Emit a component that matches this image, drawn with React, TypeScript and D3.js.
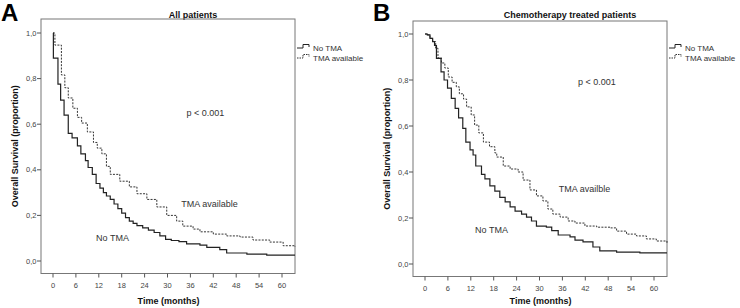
import React from "react";
import * as d3 from "d3";

// ---- Data ----
const xTicks = [0, 6, 12, 18, 24, 30, 36, 42, 48, 54, 60];
const yTicks = [0, 0.2, 0.4, 0.6, 0.8, 1.0];
const yTickLabels = ["0,0", "0,2", "0,4", "0,6", "0,8", "1,0"];

const aNoTmaTime = [0, 0.1, 1.3, 2.0, 2.9, 4.0, 5.0, 6.4, 7.3, 8.5, 9.2, 10.3, 11.3, 12.3, 13.2, 14, 15, 16, 17, 18, 19, 20, 21, 22, 23.5, 25, 26.5, 28, 29.5, 31, 33, 35, 38.5, 40.3, 43.7, 45.5, 50.8, 56, 63.4];
const aNoTmaSurv = [1, 0.89, 0.776, 0.706, 0.64, 0.56, 0.54, 0.505, 0.47, 0.44, 0.41, 0.38, 0.34, 0.32, 0.3, 0.285, 0.27, 0.25, 0.23, 0.21, 0.19, 0.175, 0.165, 0.155, 0.145, 0.135, 0.125, 0.11, 0.095, 0.09, 0.085, 0.075, 0.07, 0.06, 0.05, 0.035, 0.03, 0.026, 0.026];

const aTmaTime = [0, 0.5, 2.2, 3.1, 4.0, 5.2, 6.4, 7.5, 9.0, 10.6, 11.6, 12.8, 14, 15, 17.5, 20, 22, 24.6, 27.2, 29.8, 32.4, 34, 36.7, 38.5, 42, 45.5, 49, 52.4, 56.8, 60.3, 63.4];
const aTmaSurv = [1, 0.947, 0.816, 0.76, 0.715, 0.67, 0.63, 0.605, 0.566, 0.52, 0.495, 0.47, 0.415, 0.38, 0.35, 0.325, 0.295, 0.27, 0.237, 0.2, 0.175, 0.153, 0.14, 0.128, 0.118, 0.11, 0.105, 0.092, 0.083, 0.067, 0.062];

const bNoTmaTime = [0, 0.6, 1.3, 2.0, 2.5, 3.0, 4.2, 5, 5.9, 6.9, 7.9, 8.8, 9.9, 10.7, 11.8, 12.6, 13.3, 14.8, 15.7, 17, 18.3, 19.6, 21, 22.3, 23.6, 25.3, 26.6, 27.9, 29.2, 31.8, 33.2, 34.9, 38, 39.3, 41.4, 44, 45.8, 50.2, 56.3, 63.4];
const bNoTmaSurv = [1, 0.996, 0.981, 0.967, 0.95, 0.894, 0.835, 0.8, 0.765, 0.72, 0.677, 0.635, 0.59, 0.53, 0.496, 0.474, 0.426, 0.39, 0.37, 0.34, 0.317, 0.29, 0.27, 0.248, 0.23, 0.217, 0.204, 0.187, 0.165, 0.16, 0.145, 0.126, 0.118, 0.104, 0.096, 0.074, 0.057, 0.052, 0.048, 0.048];

const bTmaTime = [0, 0.6, 1.3, 2.0, 2.8, 3.4, 4.3, 5.2, 6.1, 7.1, 8.2, 9, 10.1, 10.9, 12.1, 13, 14.1, 15.3, 16.9, 18.3, 18.8, 20.5, 22.3, 24.4, 25.7, 27.5, 29.2, 30.9, 32.2, 33.5, 35.4, 37.5, 39.3, 41.9, 45, 48.5, 50.2, 52.8, 55.4, 58, 60.6, 63.4];
const bTmaSurv = [1, 0.996, 0.981, 0.967, 0.938, 0.896, 0.874, 0.852, 0.813, 0.79, 0.77, 0.74, 0.717, 0.683, 0.648, 0.604, 0.57, 0.53, 0.51, 0.483, 0.465, 0.426, 0.413, 0.4, 0.365, 0.322, 0.296, 0.274, 0.239, 0.217, 0.204, 0.187, 0.178, 0.165, 0.16, 0.157, 0.143, 0.13, 0.122, 0.109, 0.1, 0.087];

const legendLabels = ["No TMA", "TMA available"];

const FONT = "'Liberation Sans', Arial, sans-serif";

type PanelProps = {
  letter: string;
  title: string;
  titleX: number;
  frame: { l: number; r: number; t: number; b: number };
  xRange: [number, number];
  yRange: [number, number];
  noTma: [number[], number[]];
  tma: [number[], number[]];
  pLabel: { x: number; y: number };
  tmaLabel: { x: number; y: number; text: string };
  noLabel: { x: number; y: number };
  xTitleX: number;
  yTitleX: number;
};

function Panel(p: PanelProps) {
  const x = d3.scaleLinear().domain([0, 60]).range(p.xRange);
  const y = d3.scaleLinear().domain([0, 1]).range(p.yRange);
  const line = d3
    .line<[number, number]>()
    .x((d) => x(d[0]))
    .y((d) => y(d[1]))
    .curve(d3.curveStepAfter);
  const pts = (s: [number[], number[]]) => s[0].map((t, i) => [t, s[1][i]] as [number, number]);
  const f = p.frame;
  const midY = (f.t + f.b) / 2;
  const lx = f.r + 2;
  return (
    <g fontFamily={FONT}>
      <text x={f.l - 40} y={21} fontSize={24} fontWeight="bold" fill="#000">
        {p.letter}
      </text>
      <text x={p.titleX} y={18} fontSize={9} fontWeight="bold" textAnchor="middle" fill="#111">
        {p.title}
      </text>
      <rect x={f.l} y={f.t} width={f.r - f.l} height={f.b - f.t} fill="none" stroke="#777" strokeWidth={1} />
      {yTicks.map((v, i) => (
        <g key={"y" + i}>
          <line x1={f.l - 4} x2={f.l} y1={y(v)} y2={y(v)} stroke="#555" />
          <text x={f.l - 4.5} y={y(v) + 2.5} fontSize={7.5} textAnchor="end" fill="#444">
            {yTickLabels[i]}
          </text>
        </g>
      ))}
      {xTicks.map((v) => (
        <g key={"x" + v}>
          <line x1={x(v)} x2={x(v)} y1={f.b} y2={f.b + 4} stroke="#555" />
          <text x={x(v)} y={f.b + 14} fontSize={7.5} textAnchor="middle" fill="#444">
            {v}
          </text>
        </g>
      ))}
      <text x={p.xTitleX} y={304} fontSize={9} fontWeight="bold" textAnchor="middle" fill="#111">
        Time (months)
      </text>
      <text
        transform={`translate(${p.yTitleX},${midY}) rotate(-90)`}
        fontSize={9}
        fontWeight="bold"
        textAnchor="middle"
        fill="#111"
      >
        Overall Survival (proportion)
      </text>
      <path d={line(pts(p.tma)) || ""} fill="none" stroke="#333" strokeWidth={1} strokeDasharray="2,1.3" />
      <path d={line(pts(p.noTma)) || ""} fill="none" stroke="#222" strokeWidth={1.2} />
      <text x={p.pLabel.x} y={p.pLabel.y} fontSize={9} textAnchor="middle" fill="#333">
        p &lt; 0.001
      </text>
      <text x={p.tmaLabel.x} y={p.tmaLabel.y} fontSize={9} textAnchor="middle" fill="#333">
        {p.tmaLabel.text}
      </text>
      <text x={p.noLabel.x} y={p.noLabel.y} fontSize={9} textAnchor="middle" fill="#333">
        No TMA
      </text>
      <path d={`M${lx},48 H${lx + 6} V44.5 H${lx + 12} V47`} fill="none" stroke="#222" strokeWidth={1} />
      <path
        d={`M${lx},58 H${lx + 6} V54.5 H${lx + 12} V57`}
        fill="none"
        stroke="#333"
        strokeWidth={1}
        strokeDasharray="1.5,1"
      />
      <text x={f.r + 18} y={50.5} fontSize={8} fill="#333">
        {legendLabels[0]}
      </text>
      <text x={f.r + 18} y={60.5} fontSize={8} fill="#333">
        {legendLabels[1]}
      </text>
    </g>
  );
}

export default function App() {
  return (
    <svg
      width={740}
      height={308}
      style={{ position: "absolute", left: 0, top: 0, background: "#fff" }}
    >
      <rect width={740} height={308} fill="#fff" />
      <Panel
        letter="A"
        title="All patients"
        titleX={193}
        frame={{ l: 41, r: 295, t: 19, b: 273.5 }}
        xRange={[53, 282]}
        yRange={[261, 33]}
        noTma={[aNoTmaTime, aNoTmaSurv]}
        tma={[aTmaTime, aTmaSurv]}
        pLabel={{ x: 205.5, y: 116 }}
        tmaLabel={{ x: 209.5, y: 207, text: "TMA available" }}
        noLabel={{ x: 112.5, y: 241 }}
        xTitleX={168.5}
        yTitleX={18}
      />
      <Panel
        letter="B"
        title="Chemotherapy treated patients"
        titleX={570}
        frame={{ l: 413, r: 667, t: 21, b: 276.5 }}
        xRange={[425, 654]}
        yRange={[264, 34]}
        noTma={[bNoTmaTime, bNoTmaSurv]}
        tma={[bTmaTime, bTmaSurv]}
        pLabel={{ x: 597, y: 85 }}
        tmaLabel={{ x: 584.5, y: 192, text: "TMA availble" }}
        noLabel={{ x: 491.5, y: 233 }}
        xTitleX={540.5}
        yTitleX={390}
      />
    </svg>
  );
}
